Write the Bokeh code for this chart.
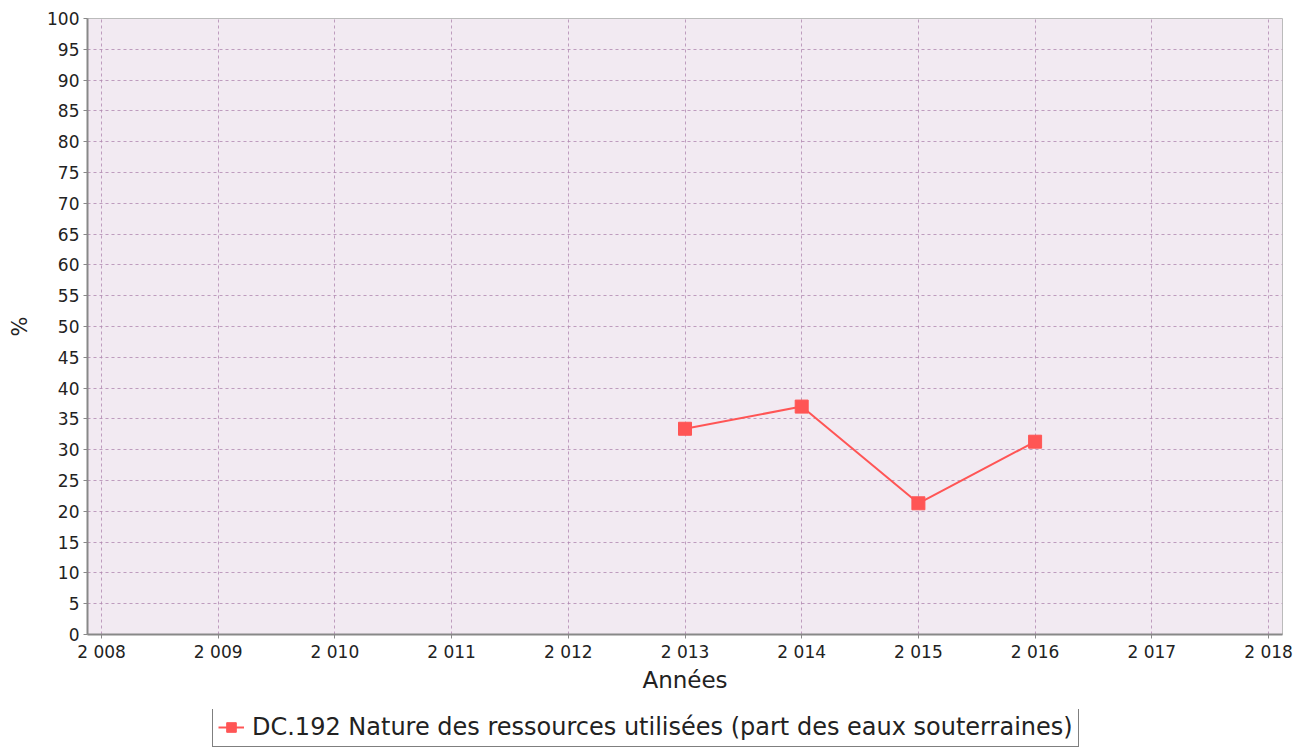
from bokeh.plotting import figure
from bokeh.layouts import column
from bokeh.models import FixedTicker, Legend, LegendItem, Range1d, ColumnDataSource
from bokeh.embed import file_html
from bokeh.resources import INLINE

years = [2013, 2014, 2015, 2016]
values = [33.4, 37.0, 21.3, 31.3]
x_ticks = list(range(2008, 2019))
x_labels = ["2 008", "2 009", "2 010", "2 011", "2 012", "2 013", "2 014", "2 015", "2 016", "2 017", "2 018"]
y_ticks = list(range(0, 101, 5))
series_name = "DC.192 Nature des ressources utilisées (part des eaux souterraines)"

FONT = "DejaVu Sans"
LINE_COLOR = "#ff5555"

p = figure(width=1296, height=709, output_backend="svg", toolbar_location=None,
           x_range=Range1d(2007.88, 2018.12), y_range=Range1d(0, 100),
           min_border_left=87, min_border_right=14, min_border_top=18, min_border_bottom=75)

p.background_fill_color = "#f2eaf2"
p.border_fill_color = "white"
p.outline_line_color = "#bbbbbb"
p.outline_line_width = 1

for ax in (p.xaxis, p.yaxis):
    ax.axis_line_color = "#888888"
    ax.axis_line_width = 2
    ax.major_tick_line_color = "#888888"
    ax.major_tick_in = 0
    ax.major_tick_out = 4
    ax.minor_tick_line_color = None
    ax.major_label_text_font = FONT
    ax.major_label_text_font_size = "17px"
    ax.major_label_text_color = "#222222"
    ax.axis_label_text_font = FONT
    ax.axis_label_text_font_size = "23px"
    ax.axis_label_text_font_style = "normal"
    ax.axis_label_text_color = "#222222"

p.xaxis.ticker = FixedTicker(ticks=x_ticks)
p.xaxis.major_label_overrides = {t: l for t, l in zip(x_ticks, x_labels)}
p.xaxis.major_label_standoff = 3
p.yaxis.ticker = FixedTicker(ticks=y_ticks)
p.yaxis.major_label_standoff = 4
p.xaxis.axis_label = "Années"
p.yaxis.axis_label = "%"
p.yaxis.axis_label_text_font_size = "21px"
p.xaxis.axis_label_standoff = 2
p.yaxis.axis_label_standoff = 12

for g in (p.xgrid, p.ygrid):
    g.grid_line_color = "#b088b0"
    g.grid_line_alpha = 0.8
    g.grid_line_dash = "3 3"
    g.grid_line_width = 1

p.line(years, values, line_color=LINE_COLOR, line_width=2)
p.scatter(years, values, marker="square", size=13, fill_color=LINE_COLOR, line_color=LINE_COLOR)

# legend strip below the chart
p2 = figure(width=1296, height=40, output_backend="svg", toolbar_location=None,
            x_range=Range1d(0, 1), y_range=Range1d(0, 1),
            min_border_left=0, min_border_right=0, min_border_top=0, min_border_bottom=0)
p2.axis.visible = False
p2.grid.visible = False
p2.outline_line_color = None
p2.background_fill_color = "white"
empty = ColumnDataSource(data=dict(x=[float("nan")], y=[float("nan")]))
ln2 = p2.line("x", "y", source=empty, line_color=LINE_COLOR, line_width=2)
sc2 = p2.scatter("x", "y", source=empty, marker="square", size=11, fill_color=LINE_COLOR, line_color=LINE_COLOR)

legend = Legend(items=[LegendItem(label=series_name, renderers=[ln2, sc2])],
                location=(125, 2), orientation="horizontal")
legend.label_text_font = FONT
legend.label_text_font_size = "24px"
legend.label_text_color = "#222222"
legend.border_line_color = "black"
legend.border_line_width = 1.5
legend.background_fill_color = "white"
legend.padding = 5
legend.margin = 0
legend.glyph_width = 26
legend.glyph_height = 24
legend.label_height = 26
legend.label_standoff = 8
legend.spacing = 0
p2.add_layout(legend, "center")

layout = column(p, p2, spacing=0)
open("out.html", "w").write(file_html(layout, INLINE))
